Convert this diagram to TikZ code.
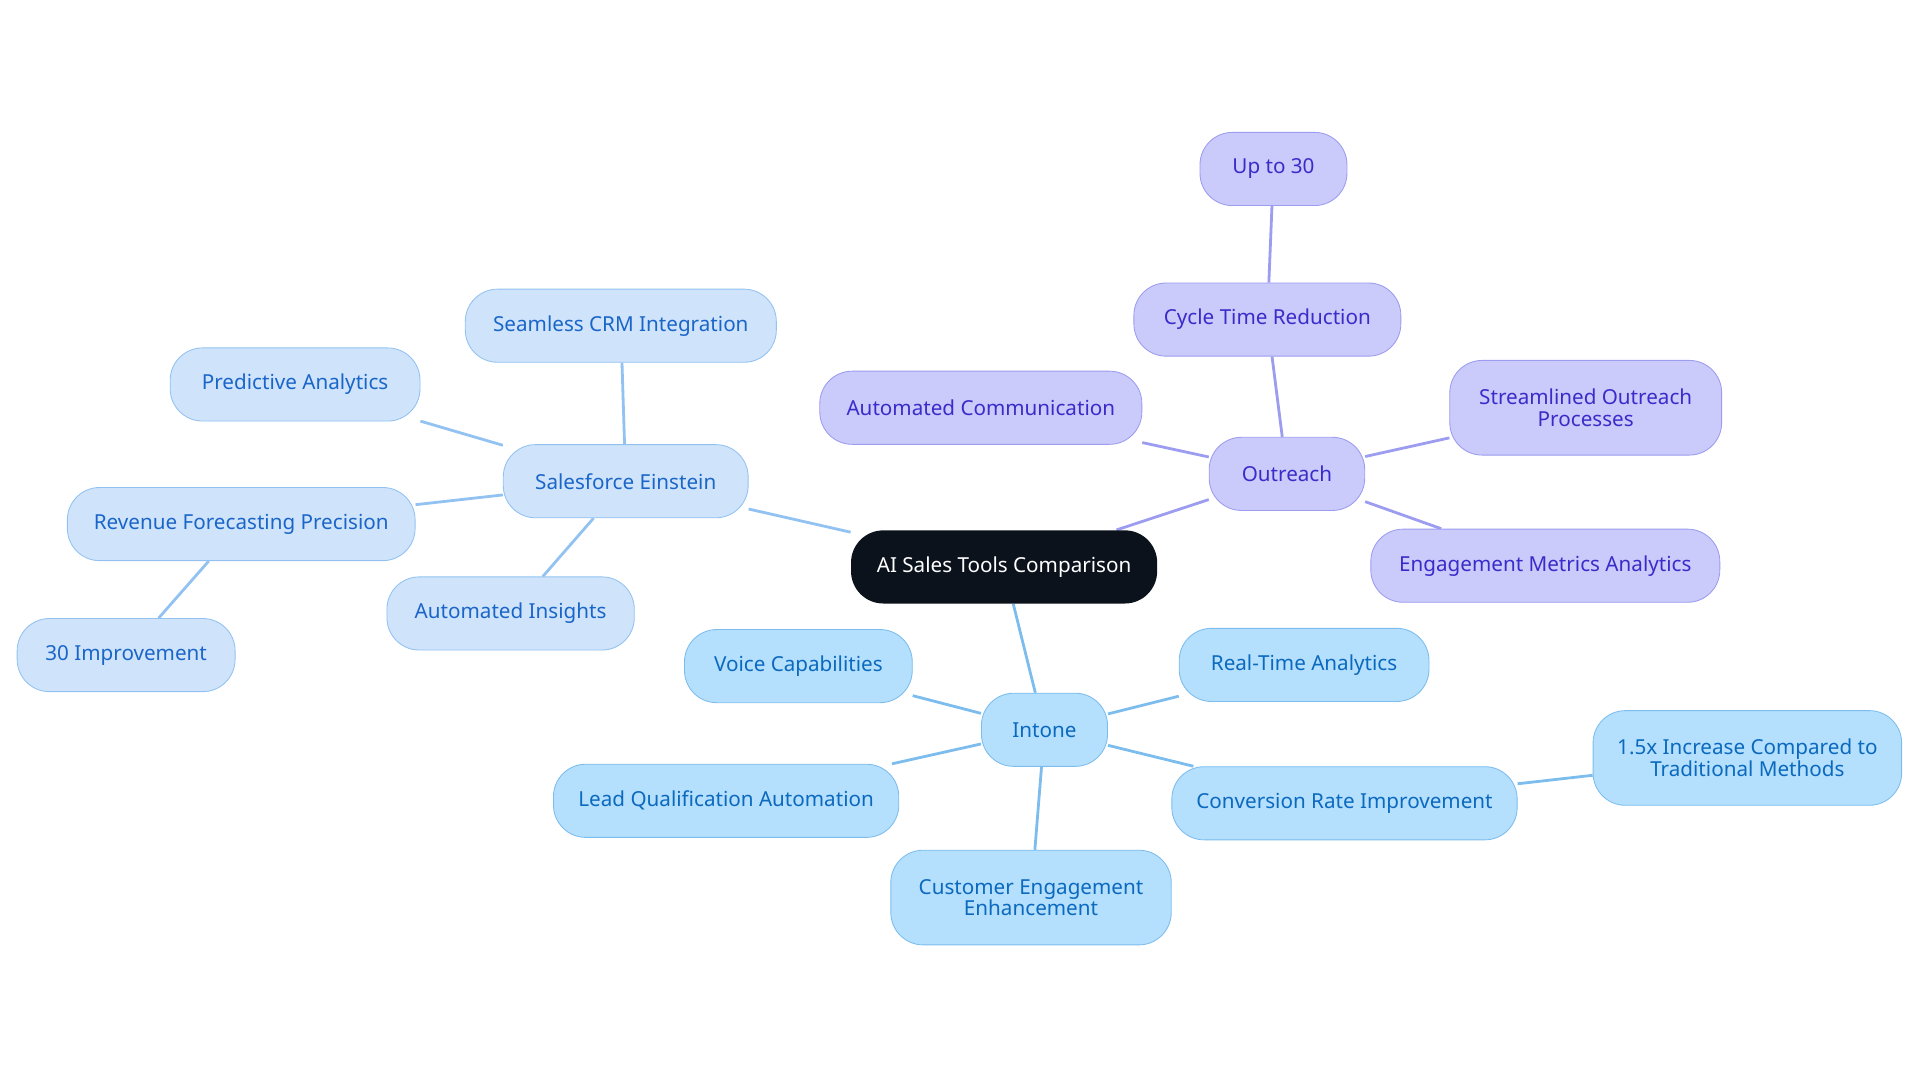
\documentclass[tikz,border=0pt]{standalone}
\usepackage{fontspec}
\setmainfont{Noto Sans}
\usetikzlibrary{backgrounds}
\definecolor{sef}{HTML}{CFE3FB}\definecolor{sed}{HTML}{92C2F1}\definecolor{set}{HTML}{1A66C8}
\definecolor{inf}{HTML}{B4DFFD}\definecolor{ind}{HTML}{7CBDEE}\definecolor{int}{HTML}{0B69BE}
\definecolor{ouf}{HTML}{CACAFB}\definecolor{oud}{HTML}{9C9CF0}\definecolor{out}{HTML}{3A2CC8}
\definecolor{ctr}{HTML}{0B121C}
\tikzset{
 box/.style={rounded corners=15pt,minimum height=34pt,align=center,font=\fontsize{9.6}{10}\selectfont,inner sep=2pt},
 wd/.style={minimum width=#1*0.02cm},
 seb/.style={box,fill=sef,draw=sed,text=set},
 inb/.style={box,fill=inf,draw=ind,text=int},
 oub/.style={box,fill=ouf,draw=oud,text=out},
 sel/.style={draw=sed,line width=1.3pt},
 inl/.style={draw=ind,line width=1.3pt},
 oul/.style={draw=oud,line width=1.3pt},
}
\begin{document}
\begin{tikzpicture}[x=0.02cm,y=-0.02cm]
\useasboundingbox (0,0) rectangle (1568,884);
\node[box,fill=ctr,text=white,wd=250] (c) at (820,463) {AI Sales Tools Comparison};
\node[seb,wd=200] (se) at (511,393) {Salesforce Einstein};
\node[seb,wd=254] (crm) at (507,266) {Seamless CRM Integration};
\node[seb,wd=204] (pa) at (241,314) {Predictive Analytics};
\node[seb,wd=284] (rf) at (197,428) {Revenue Forecasting Precision};
\node[seb,wd=178] (ti) at (103,535) {30 Improvement};
\node[seb,wd=202] (ai) at (417,501) {Automated Insights};
\node[oub,wd=127] (o) at (1051,387) {Outreach};
\node[oub,wd=218] (ct) at (1035,261) {Cycle Time Reduction};
\node[oub,wd=120] (u) at (1040,138) {Up to 30};
\node[oub,wd=263] (ac) at (801,333) {Automated Communication};
\node[oub,wd=222,minimum height=44pt] (so) at (1295,333) {Streamlined Outreach\\Processes};
\node[oub,wd=285] (em) at (1262,462) {Engagement Metrics Analytics};
\node[inb,wd=103] (i) at (853,596) {Intone};
\node[inb,wd=186] (vc) at (652,544) {Voice Capabilities};
\node[inb,wd=204] (rt) at (1065,543) {Real-Time Analytics};
\node[inb,wd=282] (lq) at (593,654) {Lead Qualification Automation};
\node[inb,wd=229,minimum height=44pt] (ce) at (842,733) {Customer Engagement\\Enhancement};
\node[inb,wd=282] (cr) at (1098,656) {Conversion Rate Improvement};
\node[inb,wd=252,minimum height=44pt] (x15) at (1427,619) {1.5x Increase Compared to\\Traditional Methods};
\begin{scope}[on background layer]
\draw[sel] (c) -- (se); \draw[sel] (se) -- (crm); \draw[sel] (se) -- (pa);
\draw[sel] (se) -- (rf); \draw[sel] (rf) -- (ti); \draw[sel] (se) -- (ai);
\draw[oul] (c) -- (o); \draw[oul] (o) -- (ct); \draw[oul] (ct) -- (u);
\draw[oul] (o) -- (ac); \draw[oul] (o) -- (so); \draw[oul] (o) -- (em);
\draw[inl] (c) -- (i); \draw[inl] (i) -- (vc); \draw[inl] (i) -- (rt);
\draw[inl] (i) -- (lq); \draw[inl] (i) -- (ce); \draw[inl] (i) -- (cr); \draw[inl] (cr) -- (x15);
\end{scope}
\end{tikzpicture}
\end{document}
